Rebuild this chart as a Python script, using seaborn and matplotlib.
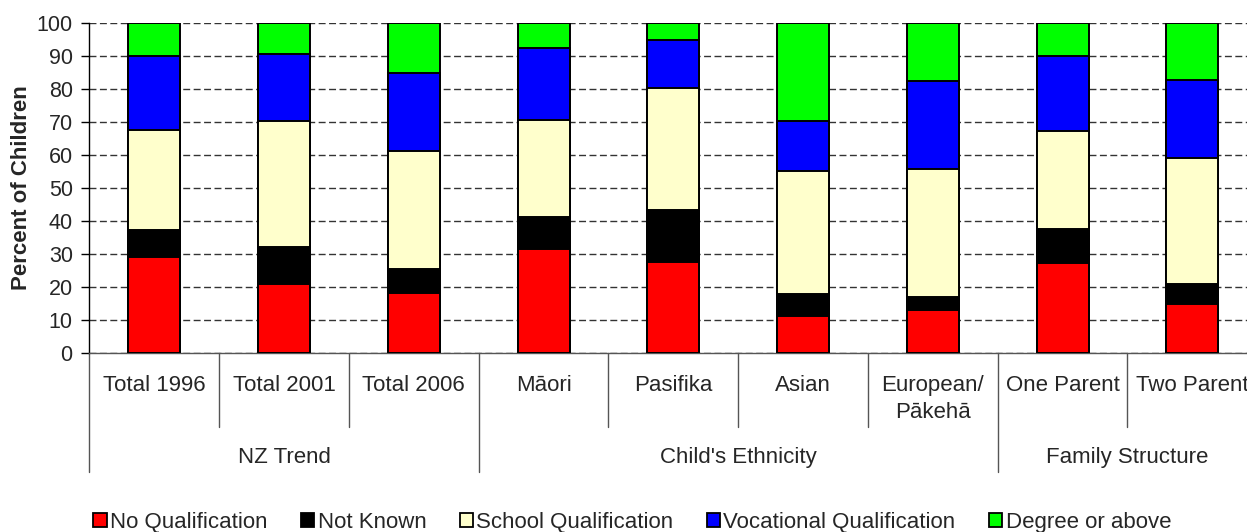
import numpy as np
import pandas as pd
import seaborn as sns
import matplotlib.pyplot as plt
from matplotlib.patches import Patch

categories = ['Total 1996', 'Total 2001', 'Total 2006', 'Māori', 'Pasifika',
              'Asian', 'European/\nPākehā', 'One Parent', 'Two Parent']
groups = ['NZ Trend', "Child's Ethnicity", 'Family Structure']
group_spans = [(0, 3), (3, 7), (7, 9)]

series = ['No Qualification', 'Not Known', 'School Qualification',
          'Vocational Qualification', 'Degree or above']
no_qual = [29.0, 21.1, 18.3, 31.5, 27.5, 11.4, 13.1, 27.3, 15.0]
not_known = [8.4, 11.1, 7.2, 9.7, 15.7, 6.5, 4.0, 10.4, 6.0]
school = [30.2, 38.1, 35.8, 29.4, 37.0, 37.2, 38.5, 29.6, 38.1]
vocational = [22.3, 20.1, 23.4, 21.8, 14.6, 15.2, 26.9, 22.6, 23.7]
degree = [10.1, 9.6, 15.3, 7.6, 5.2, 29.7, 17.5, 10.1, 17.2]
colors = ['#FF0000', '#000000', '#FFFFCC', '#0000FF', '#00FF00']

df = pd.DataFrame({'category': categories, 'No Qualification': no_qual,
                   'Not Known': not_known, 'School Qualification': school,
                   'Vocational Qualification': vocational,
                   'Degree or above': degree})
cum = df[series].cumsum(axis=1)

sns.set_style('white')
plt.rcParams['font.family'] = ['Liberation Sans', 'DejaVu Sans']

fig = plt.figure(figsize=(12.47, 5.32), dpi=100)
ax = fig.add_axes([0.0717, 0.3359, 0.9365, 0.6214])

# stacked bars: draw cumulative totals from the top layer down
for s, c in reversed(list(zip(series, colors))):
    sns.barplot(x=df['category'], y=cum[s], color=c, saturation=1, width=0.4,
                edgecolor='black', linewidth=1.4, ax=ax, zorder=3)

ax.set_xlim(-0.5, len(categories) - 0.5)
ax.set_ylim(0, 100)
ax.set_yticks(np.arange(0, 101, 10))
ax.yaxis.grid(True, color='#333333', linestyle=(0, (5, 2.5)), linewidth=1, zorder=0)
ax.xaxis.grid(False)
ax.set_xticks([])
ax.set_xlabel('')
ax.set_ylabel('Percent of Children', fontsize=16, fontweight='bold', labelpad=3.5)
ax.tick_params(axis='y', which='major', left=True, length=6, width=1,
               color='black', labelsize=15.5, pad=6)
for sp in ['top', 'right']:
    ax.spines[sp].set_visible(False)
ax.spines['left'].set_color('black')
ax.spines['left'].set_linewidth(1)
ax.spines['bottom'].set_color('#555555')
ax.spines['bottom'].set_linewidth(1)

# category axis below the plot
y0_px, h_px = 353.3, 330.6
def fy(ypx):
    return (y0_px - ypx) / h_px

tr = ax.get_xaxis_transform()
group_edges = [a for a, b in group_spans] + [group_spans[-1][1]]
for i in range(len(categories) + 1):
    x = i - 0.5
    bottom = 472 if i in group_edges else 427
    ax.plot([x, x], [0, fy(bottom)], transform=tr, color='#555555',
            linewidth=1, clip_on=False)
for i, cat in enumerate(categories):
    ax.text(i, fy(375), cat, transform=tr, ha='center', va='top',
            fontsize=16, linespacing=1.4)
for g, (a, b) in zip(groups, group_spans):
    ax.text((a + b - 1) / 2, fy(458), g, transform=tr, ha='center',
            va='center', fontsize=16)

handles = [Patch(facecolor=c, edgecolor='black', linewidth=1.3) for c in colors]
fig.legend(handles, series, loc='center', bbox_to_anchor=(0.507, 0.018),
           ncol=5, frameon=False, fontsize=16, handlelength=0.6,
           handleheight=0.6, handletextpad=0.15, columnspacing=1.5,
           borderaxespad=0)

fig.savefig('out.png', dpi=100)
